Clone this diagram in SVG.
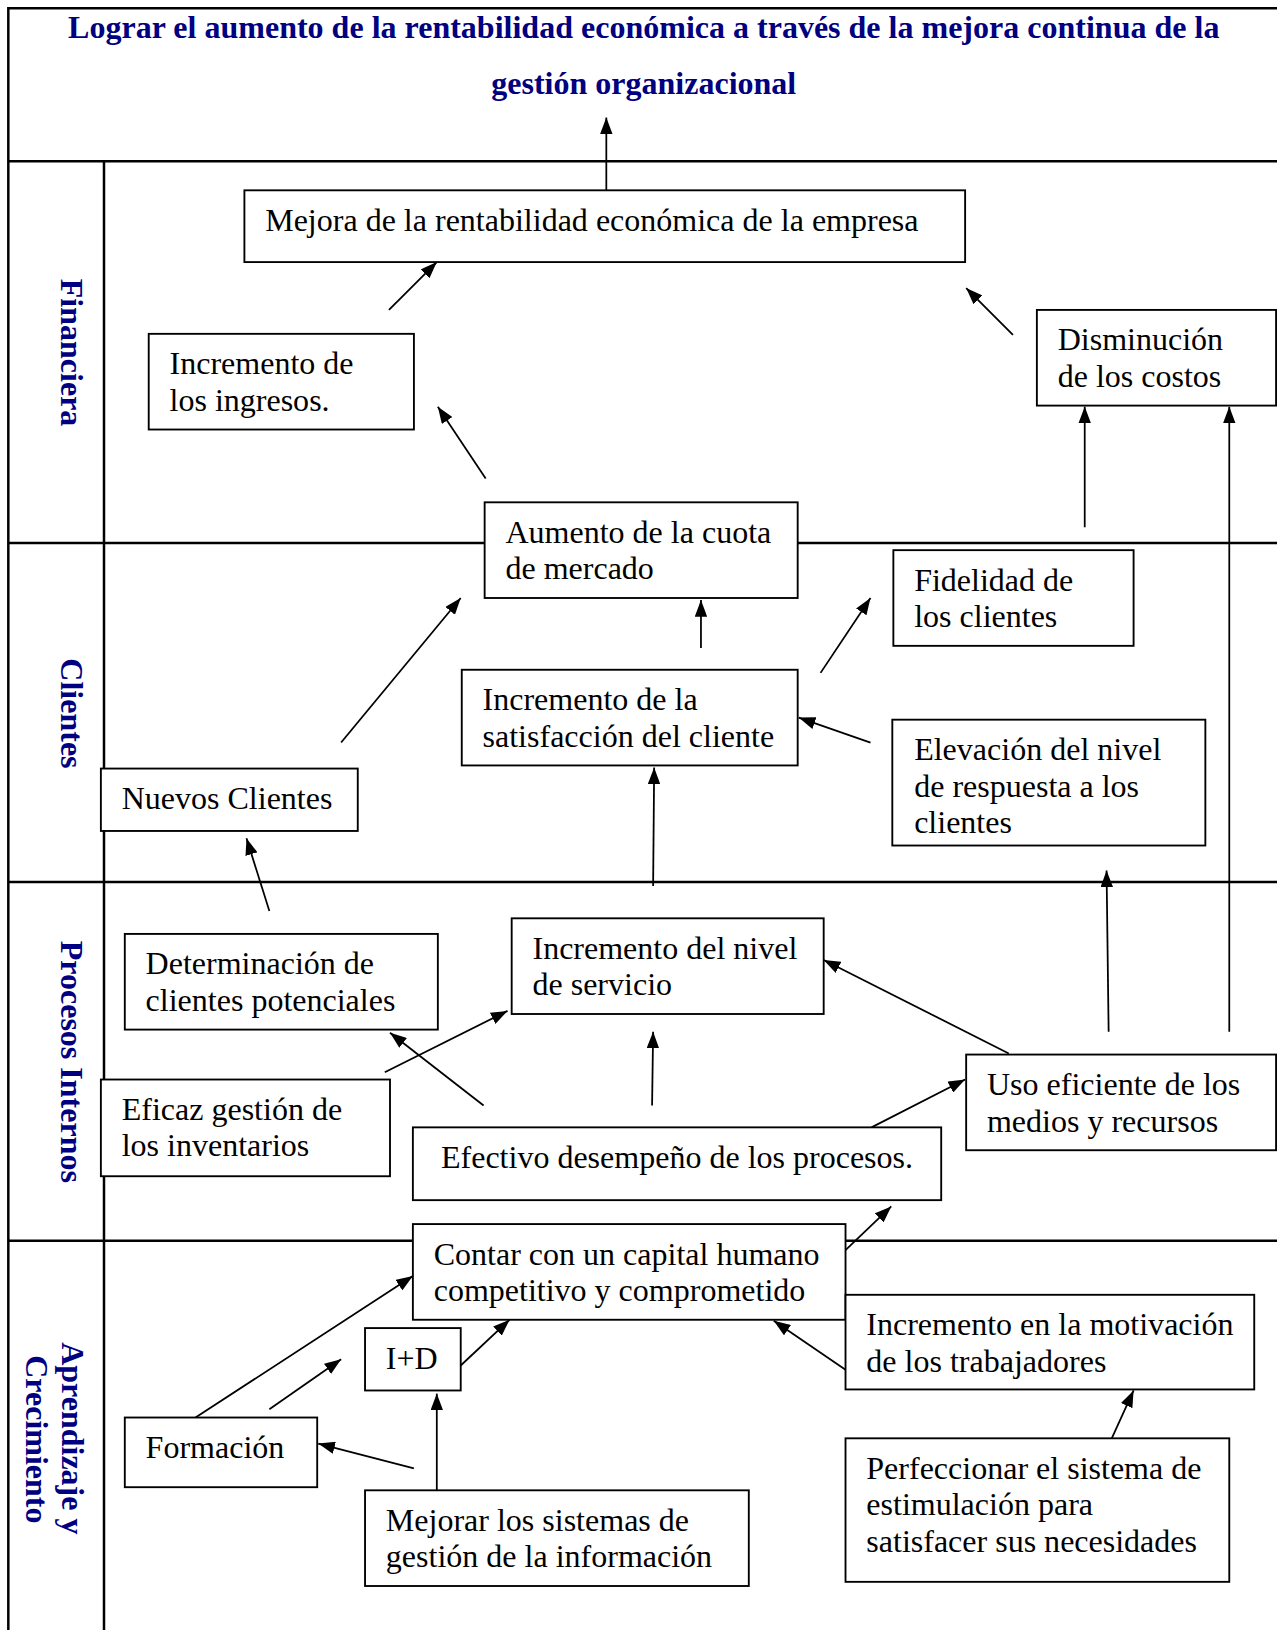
<svg xmlns="http://www.w3.org/2000/svg" width="1277" height="1630" viewBox="0 0 1277 1630">
<style>
.lane{fill:none;stroke:#000;stroke-width:2.4}
.box{fill:#fff;stroke:#000;stroke-width:1.8}
.t{font-family:"Liberation Serif","Times New Roman",serif;font-size:30.8px;fill:#000}
.h{font-family:"Liberation Serif","Times New Roman",serif;font-size:30.8px;font-weight:bold;fill:#000080}
.c{fill:none;stroke:#000;stroke-width:1.7;marker-end:url(#ah)}
</style>
<defs>
<marker id="ah" markerUnits="userSpaceOnUse" markerWidth="16" markerHeight="12" viewBox="0 0 16 12" refX="16" refY="6" orient="auto">
<path d="M0,0 L16,6 L0,12 z" fill="#000"/>
</marker>
</defs>
<rect width="1277" height="1630" fill="#fff"/>
<g transform="scale(1.04)">
<g id="lanes">
<path class="lane" d="M8,1570 V8 H1240 M8,155 H1240 M100,155 V1570 M8,522 H1240 M8,848 H1240 M8,1193 H1240"/>
<text class="h" x="619" y="37" text-anchor="middle">Lograr el aumento de la rentabilidad económica a través de la mejora continua de la</text>
<text class="h" x="619" y="90" text-anchor="middle">gestión organizacional</text>
<text class="h" transform="translate(59,339) rotate(90)" text-anchor="middle">Financiera</text>
<text class="h" transform="translate(59,686) rotate(90)" text-anchor="middle">Clientes</text>
<text class="h" transform="translate(59,1021) rotate(90)" text-anchor="middle">Procesos Internos</text>
<text class="h" transform="translate(60,1383) rotate(90)" text-anchor="middle">Aprendizaje y</text>
<text class="h" transform="translate(25,1384) rotate(90)" text-anchor="middle">Crecimiento</text>
</g>
<g id="n1"><rect class="box" x="235" y="183" width="693" height="69"/><text class="t" x="255" y="222">Mejora de la rentabilidad económica de la empresa</text></g>
<g id="n2"><rect class="box" x="143" y="321" width="255" height="92"/><text class="t" x="163" y="360">Incremento de</text><text class="t" x="163" y="395">los ingresos.</text></g>
<g id="n3"><rect class="box" x="997" y="298" width="230" height="92"/><text class="t" x="1017" y="337">Disminución</text><text class="t" x="1017" y="372">de los costos</text></g>
<g id="n4"><rect class="box" x="466" y="483" width="301" height="92"/><text class="t" x="486" y="522">Aumento de la cuota</text><text class="t" x="486" y="557">de mercado</text></g>
<g id="n5"><rect class="box" x="859" y="529" width="231" height="92"/><text class="t" x="879" y="568">Fidelidad de</text><text class="t" x="879" y="603">los clientes</text></g>
<g id="n6"><rect class="box" x="444" y="644" width="323" height="92"/><text class="t" x="464" y="683">Incremento de la</text><text class="t" x="464" y="718">satisfacción del cliente</text></g>
<g id="n7"><rect class="box" x="858" y="692" width="301" height="121"/><text class="t" x="879" y="731">Elevación del nivel</text><text class="t" x="879" y="766">de respuesta a los</text><text class="t" x="879" y="801">clientes</text></g>
<g id="n8"><rect class="box" x="97" y="739" width="247" height="60"/><text class="t" x="117" y="778">Nuevos Clientes</text></g>
<g id="n9"><rect class="box" x="120" y="898" width="301" height="92"/><text class="t" x="140" y="937">Determinación de</text><text class="t" x="140" y="972">clientes potenciales</text></g>
<g id="n10"><rect class="box" x="492" y="883" width="300" height="92"/><text class="t" x="512" y="922">Incremento del nivel</text><text class="t" x="512" y="957">de servicio</text></g>
<g id="n11"><rect class="box" x="97" y="1038" width="278" height="93"/><text class="t" x="117" y="1077">Eficaz gestión de</text><text class="t" x="117" y="1112">los inventarios</text></g>
<g id="n12"><rect class="box" x="397" y="1084" width="508" height="70"/><text class="t" x="424" y="1123">Efectivo desempeño de los procesos.</text></g>
<g id="n13"><rect class="box" x="929" y="1014" width="298" height="92"/><text class="t" x="949" y="1053">Uso eficiente de los</text><text class="t" x="949" y="1088">medios y recursos</text></g>
<g id="n14"><rect class="box" x="397" y="1177" width="416" height="92"/><text class="t" x="417" y="1216">Contar con un capital humano</text><text class="t" x="417" y="1251">competitivo y comprometido</text></g>
<g id="n15"><rect class="box" x="351" y="1277" width="92" height="60"/><text class="t" x="371" y="1316">I+D</text></g>
<g id="n16"><rect class="box" x="813" y="1245" width="393" height="91"/><text class="t" x="833" y="1284">Incremento en la motivación</text><text class="t" x="833" y="1319">de los trabajadores</text></g>
<g id="n17"><rect class="box" x="120" y="1363" width="185" height="67"/><text class="t" x="140" y="1402">Formación</text></g>
<g id="n18"><rect class="box" x="813" y="1383" width="369" height="138"/><text class="t" x="833" y="1422">Perfeccionar el sistema de</text><text class="t" x="833" y="1457">estimulación para</text><text class="t" x="833" y="1492">satisfacer sus necesidades</text></g>
<g id="n19"><rect class="box" x="351" y="1433" width="369" height="92"/><text class="t" x="371" y="1472">Mejorar los sistemas de</text><text class="t" x="371" y="1507">gestión de la información</text></g>
<g id="connectors">
<line class="c" x1="583" y1="183" x2="583" y2="113"/>
<line class="c" x1="374" y1="298" x2="420" y2="252"/>
<line class="c" x1="974" y1="322" x2="929" y2="277"/>
<line class="c" x1="467" y1="460" x2="421" y2="391"/>
<line class="c" x1="1043" y1="507" x2="1043" y2="391"/>
<line class="c" x1="1182" y1="992" x2="1182" y2="391"/>
<line class="c" x1="328" y1="714" x2="443" y2="575"/>
<line class="c" x1="674" y1="623" x2="674" y2="577"/>
<line class="c" x1="789" y1="647" x2="837" y2="575"/>
<line class="c" x1="837" y1="714" x2="768" y2="690"/>
<line class="c" x1="628" y1="852" x2="629" y2="738"/>
<line class="c" x1="259" y1="876" x2="237" y2="806"/>
<line class="c" x1="1066" y1="992" x2="1064" y2="837"/>
<line class="c" x1="370" y1="1031" x2="488" y2="972"/>
<line class="c" x1="465" y1="1063" x2="375" y2="993"/>
<line class="c" x1="627" y1="1063" x2="628" y2="992"/>
<line class="c" x1="970" y1="1013" x2="792" y2="923"/>
<line class="c" x1="838" y1="1084" x2="928" y2="1038"/>
<line class="c" x1="813" y1="1202" x2="857" y2="1160"/>
<line class="c" x1="188" y1="1363" x2="397" y2="1227"/>
<line class="c" x1="259" y1="1355" x2="328" y2="1307"/>
<line class="c" x1="443" y1="1313" x2="490" y2="1269"/>
<line class="c" x1="398" y1="1412" x2="306" y2="1388"/>
<line class="c" x1="420" y1="1433" x2="420" y2="1340"/>
<line class="c" x1="813" y1="1317" x2="744" y2="1270"/>
<line class="c" x1="1069" y1="1383" x2="1090" y2="1337"/>
</g>
</g>
</svg>
